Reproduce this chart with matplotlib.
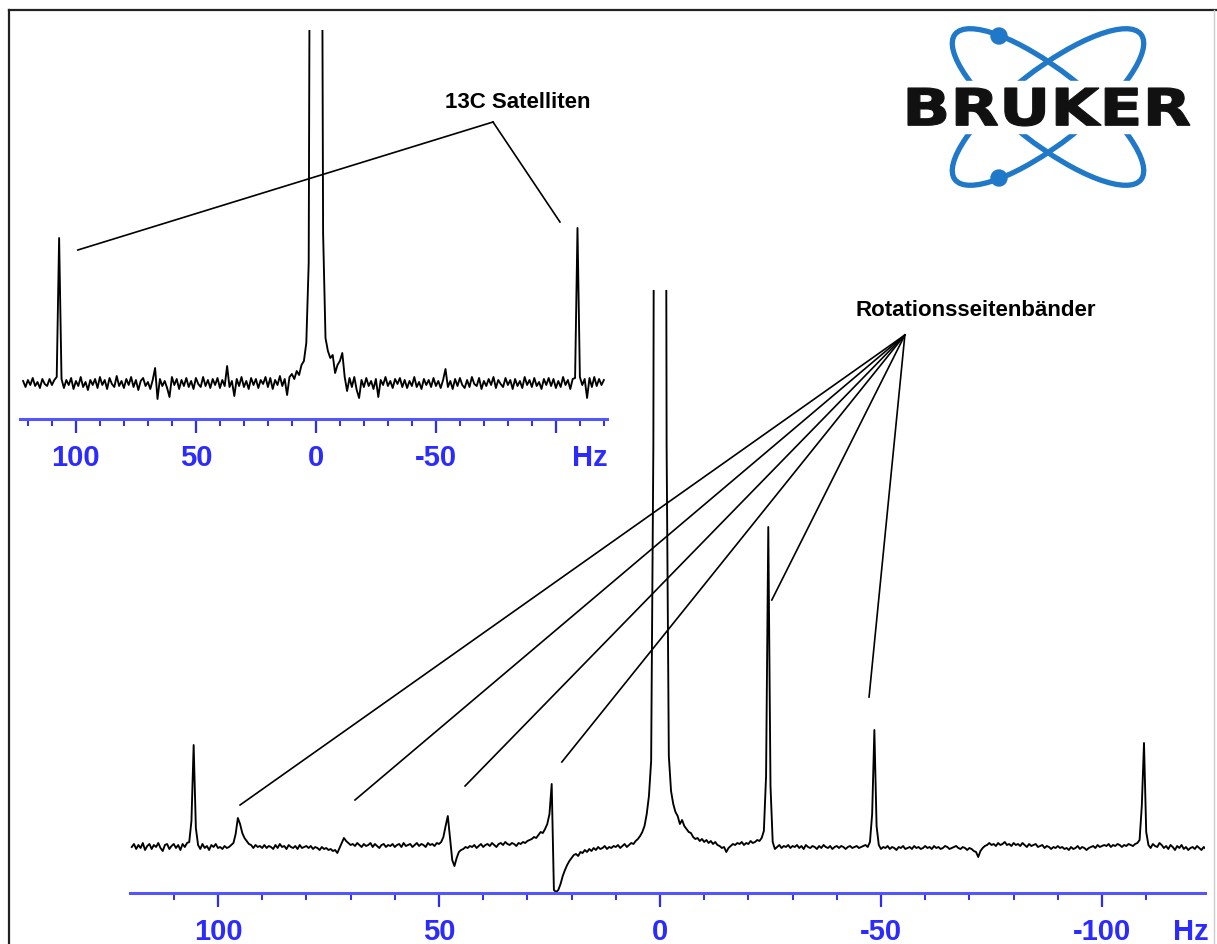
import numpy as np
import matplotlib
matplotlib.use('Agg')
import matplotlib.pyplot as plt
from matplotlib.patches import Ellipse, Circle, Rectangle, PathPatch
from matplotlib.textpath import TextPath
from matplotlib.font_manager import FontProperties
from matplotlib.transforms import Affine2D
from matplotlib.ticker import FixedLocator, MultipleLocator

# ---- data (Hz, intensity above baseline) ----
# upper trace, 1 Hz steps from 122 Hz down to -120 Hz
top_hz = np.arange(122, -121, -1)
top_int = [
    2, -4, 3, -2, 5, -3, 1, -5, 4, -1,
    -3, 4, -2, 3, 6, 145, 4, -5, 3, -2,
    5, -6, 2, -3, 6, -4, 1, -7, 3, -2,
    4, -5, 6, -2, 3, -6, 5, -1, -4, 7,
    -3, 2, -5, 4, -2, 6, -4, 3, -7, 2,
    5, -3, 1, -6, 3, 15, -16, 4, -3, 2,
    -5, -14, 6, -2, 4, -6, 3, -3, 5, -4,
    2, -6, 5, -1, -4, 6, -3, 3, -5, 4,
    -2, 5, -5, 3, -3, 17, -4, 2, -13, 4,
    -3, 6, -4, 2, -6, 5, -2, 4, -5, 3,
    -1, 6, -4, 5, -6, 3, -2, 7, -3, 4,
    -12, 6, 9, 4, 12, 8, 18, 22, 40, 120,
    900, 2400, 2600, 2400, 900, 150, 45, 32, 25, 28,
    10, 18, 22, 30, 6, -8, 5, -4, 6, -7,
    -15, 3, -4, 5, -3, 2, -6, 4, -14, 3,
    -2, 6, -3, 2, -5, 4, -1, 5, -4, 3,
    -5, 2, -3, 6, -4, 1, -6, 4, -2, 3,
    -4, 5, -3, 2, -5, 3, 14, -4, 2, -6,
    4, -3, 5, -2, -5, 3, -4, 6, -1, -3,
    5, -6, 2, -3, 4, -2, 6, -5, 3, -1,
    -4, 5, -2, 3, -6, 4, -3, 2, -5, 6,
    -2, 3, -4, 5, -3, 1, -6, 4, -2, 5,
    -3, 4, -5, 2, -4, 6, -2, 3, -6, 4,
    5, 155, 6, -2, 4, -15, 5, -4, 6, -3,
    4, -2, 3,
]

# lower trace, 0.5 Hz steps from 119.5 Hz down to -123.5 Hz
bot_hz = np.arange(119.5, -124.0, -0.5)
bot_int = [
    -1, 2, -3, 1, -2, 3, -4, 0, 2, -3, 1, -1, 3, -2, -5, 1, 2, -3, 0, 2,
    -2, 1, -4, 2, -1, 3, 4, 25, 101, 18, 1, -3, 2, -2, 0, -4, 1, -1, 2, -2,
    -1, -3, 0, -2, -1, 1, 3, 12, 28, 22, 13, 8, 5, 2, 1, -2, 1, -1, 0, -2,
    1, -2, 0, -1, -3, 1, -2, 2, -1, 0, -3, 1, -1, -2, 0, -3, 1, -2, -1, 0,
    -2, 0, -3, -1, -2, -4, -1, -3, -2, -4, -3, -5, -4, -7, -2, 3, 8, 5, 3, 1,
    2, 0, 3, 1, -1, 2, 0, 1, 3, -1, 2, 0, -2, 1, 2, -1, 1, 0, 2, -1,
    1, 2, -1, 3, 0, 1, 2, -1, 1, 3, 0, 2, 1, -1, 3, 1, 2, 0, 3, 2,
    4, 9, 20, 30, 8, -14, -20, -12, -6, -4, -3, -1, -2, 0, -1, 1, -2, 0, 2, -1,
    1, 2, 0, 3, 1, -1, 2, 3, 1, 4, 2, 1, 3, 2, 0, 3, 2, 4, 3, 5,
    6, 7, 9, 8, 11, 14, 13, 17, 22, 32, 62, -44, -46, -44, -38, -30, -24, -19, -15, -12,
    -9, -8, -10, -6, -7, -4, -6, -3, -5, -2, -4, -1, -3, -2, 0, -3, -1, -2, 0, -1,
    1, -2, 0, 2, -1, 1, 3, 2, 5, 7, 10, 14, 20, 32, 50, 85, 400, 1500, 3000, 3300,
    3000, 1500, 400, 90, 55, 42, 34, 30, 22, 26, 20, 17, 14, 13, 9, 7, 8, 5, 7, 4,
    6, 3, 5, 2, 4, 1, 0, -2, -1, -6, -2, 0, 2, 1, 3, 2, 4, 1, 3, 2,
    5, 3, 4, 6, 5, 8, 15, 70, 319, 60, 4, -3, -1, 1, -2, 0, -1, 1, -2, 0,
    -1, 1, -2, 0, -3, 1, -1, -2, 0, -1, -3, 0, -2, 1, -1, -2, 0, -3, -1, 0,
    -2, 0, -1, -3, -1, 0, -2, -1, 0, -2, -1, 0, 1, -1, 4, 32, 116, 20, 1, -3,
    -1, -2, 0, -3, -1, -2, -4, -1, -2, 0, -3, -2, -1, -3, 0, -2, -1, -3, -2, 0,
    -2, -1, -3, 0, -2, -1, -3, -2, 0, -1, -3, -2, -1, 0, -2, -3, -1, -2, -4, -2,
    -3, -5, -6, -11, -5, -2, 0, 1, 3, 1, 2, 0, 3, 1, 2, 4, 1, 2, 0, 3,
    1, 2, 0, 3, 1, -1, 2, 0, 1, 2, -1, 0, 1, -2, 0, -1, -3, -1, -2, 0,
    -2, -1, -3, -2, -4, -1, -3, -2, 0, -3, -1, -2, -4, -2, -1, 0, -2, 1, -1, 0,
    1, 0, 2, -1, 1, 0, 2, 1, -1, 1, 0, 2, 1, 0, 2, 3, 6, 40, 103, 14,
    1, -2, 2, 0, -1, 3, 1, -2, 0, -3, 1, -1, -4, 0, -2, 1, -3, -1, -4, -2,
    -1, -3, 0, -2, -4, -1, -3,
]

# axis ticks and labels
top_ticks = [100, 50, 0, -50, -100, -114]
top_labels = ['100', '50', '0', '-50', '', 'Hz']
bot_ticks = [100, 50, 0, -50, -100, -120]
bot_labels = ['100', '50', '0', '-50', '-100', 'Hz']

# annotations: label, label position, apex of the lines, line ends (data units)
sat_label = '13C Satelliten'
sat_text = (-84, 281)
sat_apex = (-73.8, 261)
sat_targets = [(99.2, 133), (-101.7, 161)]

rot_label = 'Rotationsseitenbänder'
rot_text = (-71.5, 535)
rot_apex = (-55.4, 511)
rot_targets = [(95.0, 41), (69.0, 46), (44.1, 60), (22.2, 84), (-25.3, 246), (-47.3, 149)]

# ---- figure ----
W, H = 1217, 944
fig = plt.figure(figsize=(W / 100, H / 100), dpi=100)
BLUE = '#2b2bff'
tick_family = ['Liberation Sans Narrow', 'Liberation Sans']


def px_axes(x0, y0, x1, y1):
    return fig.add_axes([x0 / W, 1 - y1 / H, (x1 - x0) / W, (y1 - y0) / H])


def style_axis(ax, xlim, ylim, ticks, labels):
    ax.set_xlim(*xlim)
    ax.set_ylim(*ylim)
    ax.set_facecolor('none')
    for s in ('top', 'left', 'right'):
        ax.spines[s].set_visible(False)
    ax.spines['bottom'].set_color('#5555ff')
    ax.spines['bottom'].set_linewidth(2.2)
    ax.set_yticks([])
    ax.xaxis.set_major_locator(FixedLocator(ticks))
    ax.xaxis.set_minor_locator(MultipleLocator(10))
    ax.set_xticklabels(labels, color=BLUE, fontsize=21, fontweight='bold', family=tick_family)
    ax.tick_params(axis='x', which='major', length=10, width=1.6, color=BLUE, pad=8)
    ax.tick_params(axis='x', which='minor', length=5, width=1.4, color=BLUE)
    # the "Hz" entry is only a label
    ax.xaxis.get_major_ticks()[-1].tick1line.set_visible(False)


# overlay in pixel units for frame and logo
ov = fig.add_axes([0, 0, 1, 1])
ov.set_xlim(0, W)
ov.set_ylim(H, 0)
ov.axis('off')
ov.plot([9, 9], [H, 10], color='#222222', lw=1.6)
ov.plot([9, W], [10, 10], color='#222222', lw=1.6)
ov.plot([1214, 1214], [10, H], color='#cccccc', lw=1.0)

logo_blue = '#1f78c8'
ov.add_patch(Ellipse((1048, 107), 236, 74, angle=38, fill=False, ec=logo_blue, lw=3.8))
ov.add_patch(Ellipse((1048, 107), 236, 74, angle=-38, fill=False, ec=logo_blue, lw=3.8))
ov.add_patch(Circle((999, 36), 8, color=logo_blue))
ov.add_patch(Circle((999, 178), 8, color=logo_blue))
ov.add_patch(Rectangle((902, 81), 294, 52, color='white'))
tp = TextPath((0, 0), 'BRUKER', size=50, prop=FontProperties(family='DejaVu Sans', weight='bold'))
ext = tp.get_extents()
tr = Affine2D().translate(-ext.x0, -ext.y0).scale(282 / ext.width, -38 / ext.height).translate(908, 126)
ov.add_patch(PathPatch(tp.transformed(tr), fc='#111111', ec='#111111', lw=0.8))

# upper spectrum
ax1 = px_axes(20, 30, 607, 419)
style_axis(ax1, (123.3, -121.3), (-36, 353), top_ticks, top_labels)
ax1.plot(top_hz, top_int, color='black', lw=1.35)
ax1.text(*sat_text, sat_label, ha='center', va='center', fontsize=16,
         fontweight='bold', family='Liberation Sans')
for tx, ty in sat_targets:
    ax1.plot([sat_apex[0], tx], [sat_apex[1], ty], color='black', lw=1.2)

# lower spectrum
ax2 = px_axes(130, 290, 1205, 893)
style_axis(ax2, (119.9, -123.3), (-47, 556), bot_ticks, bot_labels)
ax2.plot(bot_hz, bot_int, color='black', lw=1.35)
ax2.text(*rot_text, rot_label, ha='center', va='center', fontsize=16,
         fontweight='bold', family='Liberation Sans')
for tx, ty in rot_targets:
    ax2.plot([rot_apex[0], tx], [rot_apex[1], ty], color='black', lw=1.2)

fig.savefig('out.png', dpi=100)
